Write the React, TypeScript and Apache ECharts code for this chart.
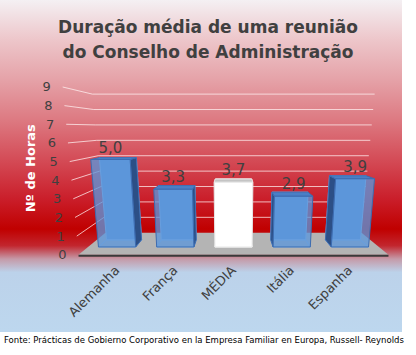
import React, { useEffect, useRef } from "react";
import * as echarts from "echarts";

const titleLines = ["Duração média de uma reunião", "do Conselho de Administração"];
const categories = ["Alemanha", "França", "MÉDIA", "Itália", "Espanha"];
const values = [5.0, 3.3, 3.7, 2.9, 3.9];
const highlighted = [false, false, true, false, false];
const yTicks = [0, 1, 2, 3, 4, 5, 6, 7, 8, 9];
const yAxisName = "Nº de Horas";
const sourceNote =
  "Fonte: Prácticas de Gobierno Corporativo en la Empresa Familiar en Europa, Russell- Reynolds";

const FONT = "DejaVu Sans";
// perspective settings (drawing style only)
const HORIZON = 6.8; // eye level expressed in axis units
const CONV = 0.00065; // vertical convergence
const S_FRONT = 1.065;
const S_BAR_BACK = 0.94;
const S_BACK = 0.88;

function projector(api: any) {
  const mid = (categories.length - 1) / 2;
  const eye = api.coord([mid, HORIZON]);
  const base = api.coord([mid, 0]);
  return (p: number[], s: number) => {
    const c = 1 + CONV * (base[1] - p[1]);
    return [eye[0] + s * c * (p[0] - eye[0]), eye[1] + s * (p[1] - eye[1])];
  };
}

export default function App() {
  const ref = useRef<HTMLDivElement>(null);
  useEffect(() => {
    document.body.style.margin = "0";
    const chart = echarts.init(ref.current!, null, { renderer: "svg" });
    const option: any = {
      animation: false,
      backgroundColor: "#ffffff",
      graphic: [
        {
          type: "rect",
          z: -10,
          silent: true,
          shape: { x: 0, y: 0, width: 402, height: 332 },
          style: {
            fill: new echarts.graphic.LinearGradient(0, 0, 0, 1, [
              { offset: 0, color: "#f4f0f3" },
              { offset: 0.12, color: "#edc6ca" },
              { offset: 0.24, color: "#e5a2a8" },
              { offset: 0.36, color: "#dd7a82" },
              { offset: 0.48, color: "#d44c57" },
              { offset: 0.6, color: "#ca1e2a" },
              { offset: 0.69, color: "#c00000" },
              { offset: 0.74, color: "#c2262e" },
              { offset: 0.78, color: "#c59aa8" },
              { offset: 0.82, color: "#bcd2ea" },
              { offset: 1, color: "#bdd7ee" },
            ]),
          },
        },
        {
          type: "text",
          left: 4,
          top: 335,
          style: {
            text: sourceNote,
            fill: "#000000",
            font: `8.5px ${FONT}`,
          },
        },
      ],
      title: {
        text: titleLines.join("\n"),
        left: "center",
        top: 9,
        textStyle: {
          fontFamily: FONT,
          fontSize: 17,
          fontWeight: "bold",
          color: "#404040",
          lineHeight: 25,
        },
      },
      grid: { left: 88, right: 37, top: 89.5, bottom: 108 },
      xAxis: {
        type: "category",
        data: categories,
        axisLine: { show: false },
        axisTick: { show: false },
        axisLabel: {
          rotate: 45,
          margin: 21,
          color: "#404040",
          fontFamily: FONT,
          fontSize: 13,
        },
      },
      yAxis: {
        type: "value",
        min: 0,
        max: 9,
        interval: 1,
        name: yAxisName,
        nameLocation: "middle",
        nameRotate: 90,
        nameGap: 51,
        nameTextStyle: { color: "#ffffff", fontWeight: "bold", fontSize: 13, fontFamily: FONT },
        axisLine: { show: false },
        axisTick: { show: false },
        axisLabel: { show: false },
        splitLine: { show: false },
      },
      series: [
        {
          type: "custom",
          data: yTicks.map((t) => [0, t]),
          renderItem: (params: any, api: any) => {
            const proj = projector(api);
            const v = api.value(1);
            const band = api.size([1, 0])[0];
            const xl = api.coord([0, 0])[0] - band / 2;
            const xr = api.coord([categories.length - 1, 0])[0] + band / 2;
            const y = api.coord([0, v])[1];
            const fl = proj([xl, y], S_FRONT);
            const bl = proj([xl, y], S_BACK);
            const br = proj([xr, y], S_BACK);
            const children: any[] = [];
            if (v === 0) {
              const fr = proj([xr, y], S_FRONT);
              children.push({
                type: "polygon",
                shape: { points: [fl, fr, br, bl] },
                style: { fill: "#b4b4b4" },
              });
              children.push({
                type: "line",
                shape: { x1: fl[0], y1: fl[1] + 1, x2: fr[0], y2: fr[1] + 1 },
                style: { stroke: "#3a3a3a", lineWidth: 2 },
              });
            } else {
              children.push({
                type: "polyline",
                shape: { points: [fl, bl, br] },
                style: { stroke: "rgba(255,240,240,0.75)", lineWidth: 1, fill: "none" },
              });
            }
            children.push({
              type: "text",
              style: {
                text: String(v),
                x: fl[0] - 12,
                y: fl[1],
                align: "right",
                verticalAlign: "middle",
                fill: "#404040",
                font: `13px ${FONT}`,
              },
            });
            return { type: "group", children };
          },
        },
        {
          type: "custom",
          data: values.map((v, i) => [i, v]),
          renderItem: (params: any, api: any) => {
            const proj = projector(api);
            const i = api.value(0);
            const v = api.value(1);
            const hl = highlighted[i];
            const band = api.size([1, 0])[0];
            const cx = api.coord([i, 0])[0];
            const hw = band * 0.32;
            const y0 = api.coord([i, 0])[1];
            const y1 = api.coord([i, v])[1];
            const pt = (x: number, y: number, s: number) => proj([x, y], s);
            const fBL = pt(cx - hw, y0, 1), fBR = pt(cx + hw, y0, 1);
            const fTL = pt(cx - hw, y1, 1), fTR = pt(cx + hw, y1, 1);
            const bBL = pt(cx - hw, y0, S_BAR_BACK), bBR = pt(cx + hw, y0, S_BAR_BACK);
            const bTL = pt(cx - hw, y1, S_BAR_BACK), bTR = pt(cx + hw, y1, S_BAR_BACK);
            const front = hl ? "#ffffff" : "rgba(92,150,218,0.78)";
            const backFill = hl ? "#ffffff" : "#5b95d8";
            const side = hl ? "#d8d8d8" : "#2c4f86";
            const top = hl ? "#c4c4c4" : "#4a7fc6";
            const edge = hl ? "#e6e6e6" : "#3d6cb0";
            const inner = hl ? "#ffffff" : "#8fbcee";
            const children: any[] = [];
            children.push({
              type: "polygon",
              shape: { points: [bBL, bBR, bTR, bTL] },
              style: { fill: backFill, stroke: inner, lineWidth: 1 },
            });
            children.push({
              type: "polygon",
              shape: { points: [fBL, bBL, bBR, fBR] },
              style: { fill: "none", stroke: inner, lineWidth: 1 },
            });
            const mid = (categories.length - 1) / 2;
            if (i < mid) {
              children.push({
                type: "polygon",
                shape: { points: [fBR, bBR, bTR, fTR] },
                style: { fill: side, stroke: edge, lineWidth: 1 },
              });
            } else if (i > mid) {
              children.push({
                type: "polygon",
                shape: { points: [fBL, bBL, bTL, fTL] },
                style: { fill: side, stroke: edge, lineWidth: 1 },
              });
            }
            children.push({
              type: "polygon",
              shape: { points: [fTL, fTR, bTR, bTL] },
              style: { fill: top, stroke: edge, lineWidth: 1 },
            });
            children.push({
              type: "polygon",
              shape: { points: [fBL, fBR, fTR, fTL] },
              style: { fill: front, stroke: edge, lineWidth: 1 },
            });
            children.push({
              type: "text",
              style: {
                text: v.toFixed(1).replace(".", ","),
                x: (fTL[0] + fTR[0]) / 2,
                y: fTL[1] - 12,
                align: "center",
                verticalAlign: "middle",
                fill: "#404040",
                font: `15px ${FONT}`,
              },
            });
            return { type: "group", children };
          },
        },
      ],
    };
    chart.setOption(option);
    return () => chart.dispose();
  }, []);
  return (
    <div
      ref={ref}
      style={{ position: "absolute", left: 0, top: 0, width: 416, height: 355 }}
    />
  );
}
